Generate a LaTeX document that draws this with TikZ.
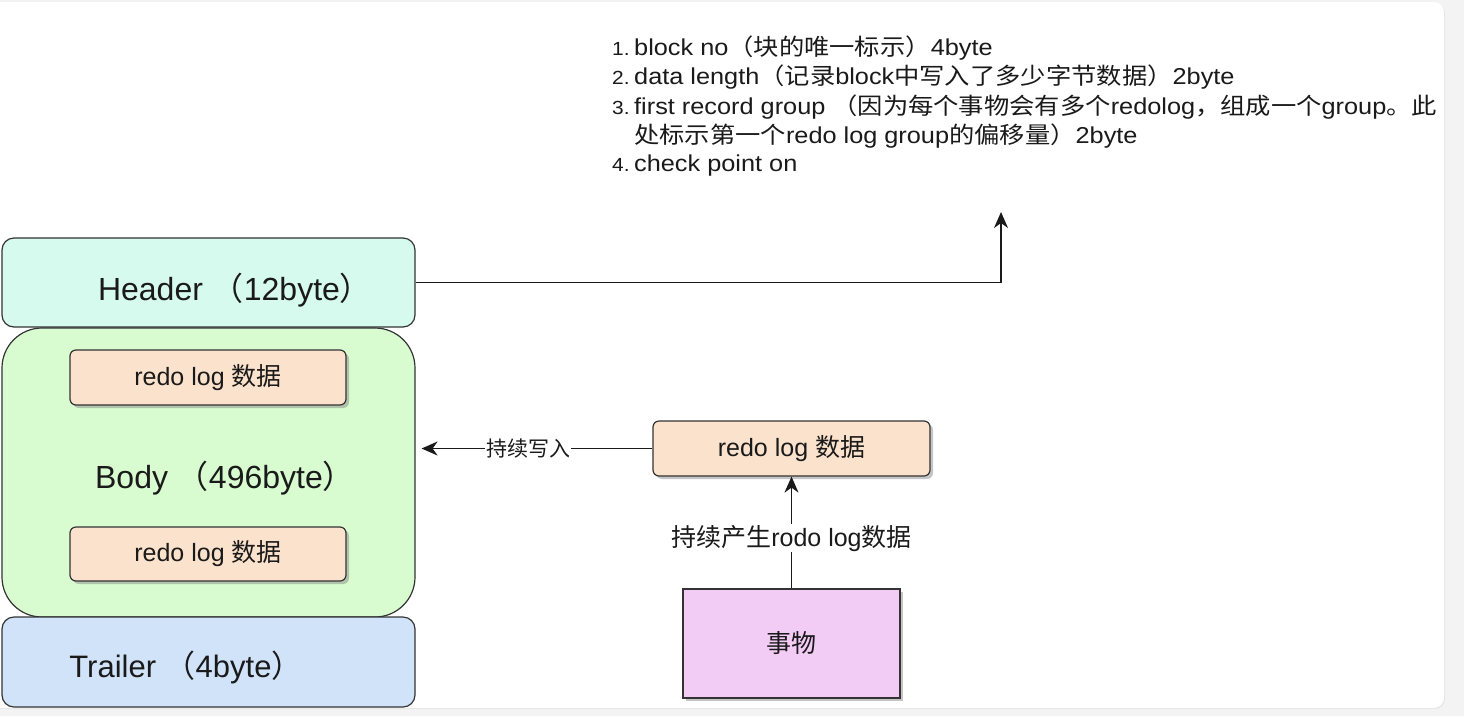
\documentclass[tikz,border=0pt]{standalone}
\usepackage{fontspec}
\setmainfont{Liberation Sans}
\newfontfamily\cjk{Noto Sans CJK SC}
\newfontfamily\lsans{Liberation Sans}[FakeStretch=1.1]
\newfontfamily\lcjk{Noto Sans CJK SC}[FakeStretch=1.1]
\usetikzlibrary{shadows,arrows.meta}
\newcommand\zh[1]{{\cjk #1}}
\newcommand\zs[1]{{\lcjk #1}}
\newcommand\fs[1]{\fontsize{#1}{#1}\selectfont}
\newcommand\num[1]{\makebox[22pt][l]{\fs{19}#1}}
\definecolor{bggray}{HTML}{F3F3F3}
\definecolor{hdrfill}{HTML}{D6FAEE}
\definecolor{bodyfill}{HTML}{D8FBD0}
\definecolor{trlfill}{HTML}{D1E3F9}
\definecolor{redofill}{HTML}{FAE2CC}
\definecolor{txfill}{HTML}{F3CCF6}
\definecolor{ink}{HTML}{1A1A1A}
\definecolor{edge}{HTML}{333333}
\begin{document}
\begin{tikzpicture}[x=1pt,y=-1pt,
  box/.style={draw=edge,line width=1.2pt,inner sep=0pt,text=ink},
  shad/.style={drop shadow={shadow xshift=3pt,shadow yshift=-3pt,opacity=0.45,fill=gray}},
  arr/.style={draw=ink,line width=1.3pt,-{Stealth[length=16pt,width=14pt,inset=5pt]}},
  lbl/.style={text=ink,inner sep=1pt},
  li/.style={anchor=west,text=ink,inner sep=0pt,font=\lsans\fs{23}}]
\useasboundingbox (0,0) rectangle (1464,716);
\fill[bggray] (0,0) rectangle (1464,716);
\fill[white,rounded corners=10pt,drop shadow={shadow xshift=1pt,shadow yshift=-1pt,opacity=0.12,fill=gray}] (-30,2) rectangle (1444,708);

% left block
\node[box,fill=hdrfill,rounded corners=12pt,minimum width=413pt,minimum height=89pt] (header) at (208.5,282.5) {};
\node[box,fill=bodyfill,rounded corners=40pt,minimum width=413pt,minimum height=289pt] (body) at (208.5,472.5) {};
\node[box,fill=trlfill,rounded corners=12pt,minimum width=413pt,minimum height=90pt] (trailer) at (208.5,662) {};
\node[lbl,font=\fs{32}] (htext) at (235,290) {Header \zh{（}12byte\zh{）}};
\node[lbl,font=\fs{32}] (btext) at (225,478) {Body \zh{（}496byte\zh{）}};
\node[lbl,font=\fs{31}] (ttext) at (186,667) {Trailer \zh{（}4byte\zh{）}};

\node[box,fill=redofill,rounded corners=6pt,shad,minimum width=276pt,minimum height=55pt,font=\fs{25}] (redo1) at (208,377.5) {redo log \zh{数据}};
\node[box,fill=redofill,rounded corners=6pt,shad,minimum width=276pt,minimum height=54pt,font=\fs{25}] (redo2) at (208,554) {redo log \zh{数据}};

% right side
\node[box,fill=redofill,rounded corners=6pt,shad,minimum width=277pt,minimum height=55pt,font=\fs{25}] (redoR) at (791.5,448.5) {redo log \zh{数据}};
\node[box,fill=txfill,shad,minimum width=217pt,minimum height=109pt,font=\fs{25}] (tx) at (791.5,643.5) {\zh{事物}};

\draw[arr] (tx.north) -- node[fill=white,lbl,pos=0.45,font=\fs{25}] (lblgen) {\zh{持续产生}rodo log\zh{数据}} (redoR.south);
\draw[arr,shorten >=6pt] (redoR.west) -- node[fill=white,lbl,pos=0.525,font=\fs{21}] (lblwr) {\zh{持续写入}} (redoR.west -| body.east);

\coordinate (up) at (1001,212);
\draw[arr] (header.east) -| (up);

% list
\node[li] (l1) at (612,48) {\num{1.}block no\zs{（块的唯一标示）}4byte};
\node[li] (l2) at (612,77.5) {\num{2.}data length\zs{（记录}block\zs{中写入了多少字节数据）}2byte};
\node[li] (l3) at (612,107) {\num{3.}first record group \zs{（因为每个事物会有多个}redolog\zs{，组成一个}group\zs{。此}};
\node[li] (l4) at (634,136) {\zs{处标示第一个}redo log group\zs{的偏移量）}2byte};
\node[li] (l5) at (612,166) {\num{4.}check point on};
\end{tikzpicture}
\end{document}
